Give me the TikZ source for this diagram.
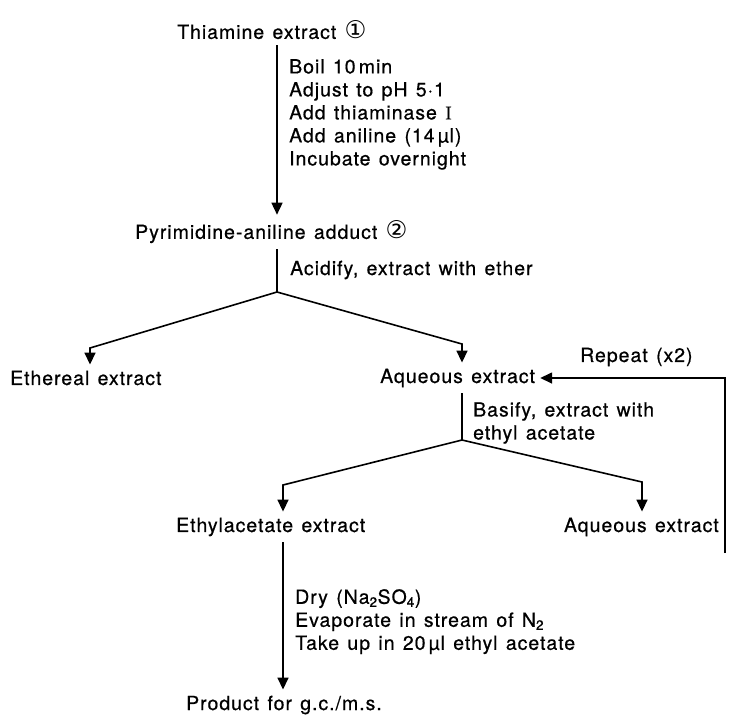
\documentclass[tikz,border=0pt]{standalone}
\usepackage{fontspec}
\setmainfont[LetterSpace=5,WordSpace=1.3,FakeBold=0.6]{TeX Gyre Heros}
\newfontfamily\circfont[Scale=1.25]{DejaVu Sans}
\newfontfamily\serifont[FakeBold=0.6]{Liberation Serif}
\usetikzlibrary{arrows.meta}
\tikzset{txt/.style={inner sep=0pt, font=\fontsize{19.5}{23}\selectfont}}
\tikzset{steps/.style={txt, align=left, anchor=north west}}
\tikzset{ln/.style={line width=1.6pt}}
\tikzset{arr/.style={ln, -{Triangle[length=12pt,width=11pt]}}}
\newcommand{\circnum}[1]{{\circfont #1}}

\begin{document}
\begin{tikzpicture}[x=1pt,y=-1pt]
\useasboundingbox (0,0) rectangle (732,724);

% steps
\node[txt, anchor=west] (thia) at (177,30) {Thiamine extract \circnum{①}};
\node[steps] (boil) at (289,59) {Boil 10\,min\\Adjust to pH 5·1\\Add thiaminase {\serifont I}\\Add aniline (14\,µl)\\Incubate overnight};
\node[txt, anchor=west] (pyr) at (135,232) {Pyrimidine-aniline adduct \circnum{②}};
\node[txt, anchor=west] (acid) at (290,270) {Acidify, extract with ether};
\node[txt, anchor=west] (ether) at (10,378) {Ethereal extract};
\node[txt, anchor=west] (aq1) at (380,378) {Aqueous extract};
\node[txt, anchor=west] (rep) at (580,357) {Repeat (x2)};
\node[steps] (basify) at (473,402) {Basify, extract with\\ethyl acetate};
\node[txt, anchor=west] (etac) at (176,527) {Ethylacetate extract};
\node[txt, anchor=east] (aq2) at (719,527) {Aqueous extract};
\node[steps] (dry) at (295,589) {Dry (Na\textsubscript{2}SO\textsubscript{4})\\Evaporate in stream of N\textsubscript{2}\\Take up in 20\,µl ethyl acetate};
\node[txt, anchor=west] (prod) at (186,705) {Product for g.c./m.s.};

% corners
\coordinate (split1) at (277,292);
\coordinate (split2) at (462,440);
\coordinate (kE) at (90,348);
\coordinate (kA) at (462,344);
\coordinate (kEt) at (283,485);
\coordinate (kA2) at (642,482);
\coordinate (loopB) at (725,553);

\draw[arr, shorten <=6pt, shorten >=6pt] (thia.south -| split1) -- (pyr.north -| split1);
\draw[ln, shorten <=6pt] (pyr.south -| split1) -- (split1);
\draw[arr, shorten >=6pt] (split1) -- (kE) -- (kE |- ether.north);
\draw[arr, shorten >=6pt] (split1) -- (kA) -- (kA |- aq1.north);
\draw[arr, shorten >=5pt] (loopB) -- (loopB |- aq1.east) -- (aq1.east);
\draw[ln, shorten <=6pt] (aq1.south -| split2) -- (split2);
\draw[arr, shorten >=6pt] (split2) -- (kEt) -- (kEt |- etac.north);
\draw[arr, shorten >=6pt] (split2) -- (kA2) -- (kA2 |- aq2.north);
\draw[arr, shorten <=6pt, shorten >=6pt] (etac.south -| kEt) -- (prod.north -| kEt);
\end{tikzpicture}
\end{document}
